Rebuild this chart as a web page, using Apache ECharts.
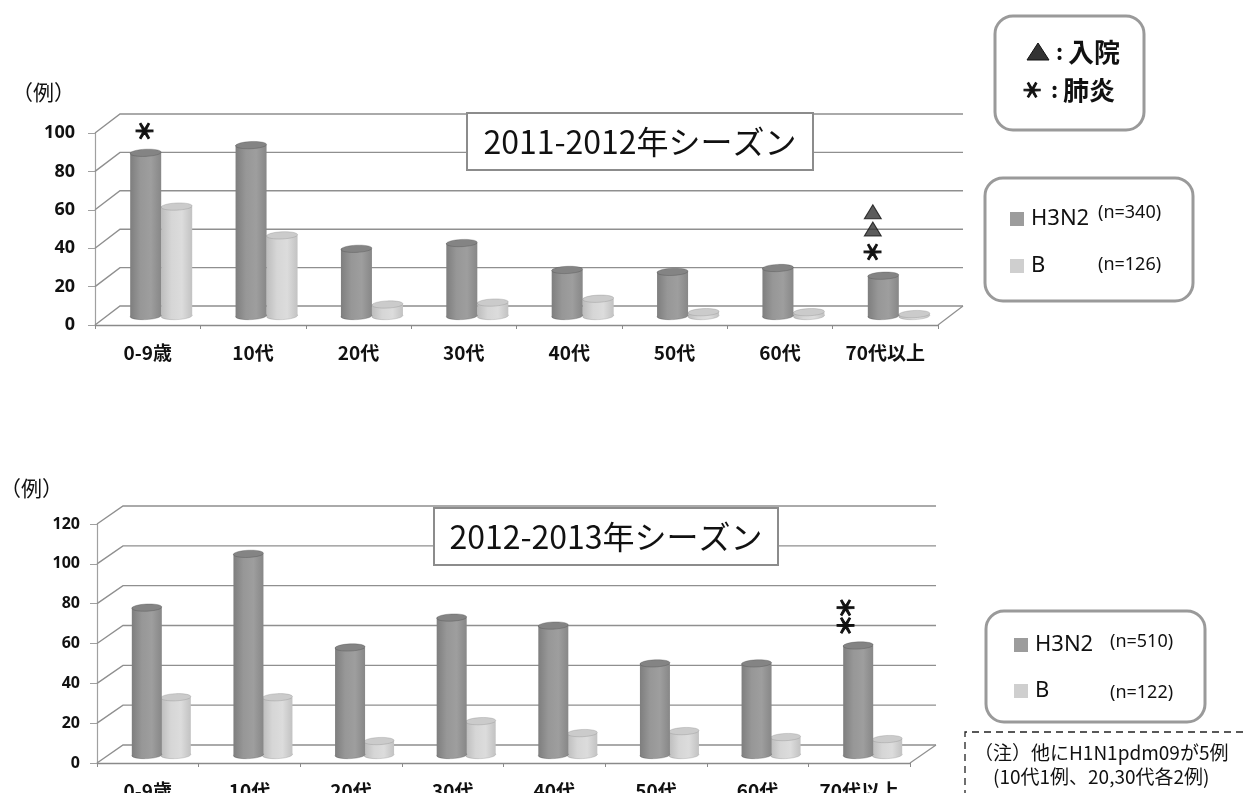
<!DOCTYPE html>
<html lang="ja">
<head>
<meta charset="utf-8">
<title>インフルエンザ 年代別症例数</title>
<script src="https://cdn.jsdelivr.net/npm/echarts@6/dist/echarts.min.js"></script>
<style>
html,body{margin:0;padding:0;background:#fff;overflow:hidden}
#main{width:1243px;height:793px}
</style>
</head>
<body>
<div id="main"></div>
<script>
// Age groups on both panels
const categories = ['0-9歳', '10代', '20代', '30代', '40代', '50代', '60代', '70代以上'];

// 2011-2012 season
const h3n2Season1 = [85, 89, 35, 38, 24, 23, 25, 21];
const bSeason1 = [57, 42, 6, 7, 9, 2, 2, 1];
const pneumoniaSeason1 = [[0, 101], [7, 38]];
const hospitalSeason1 = [[7, 59], [7, 50]];
const ticksSeason1 = [0, 20, 40, 60, 80, 100];

// 2012-2013 season
const h3n2Season2 = [74, 101, 54, 69, 65, 46, 46, 55];
const bSeason2 = [29, 29, 7, 17, 11, 12, 9, 8];
const pneumoniaSeason2 = [[7, 78], [7, 69]];
const ticksSeason2 = [0, 20, 40, 60, 80, 100, 120];

const CJK = '"Noto Sans CJK JP","Noto Sans",sans-serif';
const LATIN = '"Noto Sans","Noto Sans CJK JP",sans-serif';
const WALL = '#8f8f8f';

const DARK = {stops: ['#7e7e7e', '#979797', '#9e9e9e', '#878787'], cap: '#848484', legend: '#9c9c9c'};
const LIGHT = {stops: ['#bdbdbd', '#d6d6d6', '#dcdcdc', '#c2c2c2'], cap: '#cbcbcb', legend: '#cfcfcf'};

// Panel layout: front plane of the box and how far the back wall is shifted
const panels = [
  {left: 95, top: 133, width: 843, height: 192, depthX: 25, depthY: -19, floorY: -9, rx: 15.5, ry: 3.6, darkX: -2, lightX: 29, max: 100},
  {left: 97, top: 524, width: 813, height: 239, depthX: 26, depthY: -18, floorY: -8, rx: 15, ry: 3.6, darkX: -1, lightX: 28, max: 120}
];

// Receding gridlines: slanted stub from the axis, then the line along the back wall
function wallSeries(gridIndex, ticks) {
  const p = panels[gridIndex];
  return {
    type: 'custom', name: 'wall' + gridIndex, xAxisIndex: gridIndex, yAxisIndex: gridIndex, z: 1, silent: true,
    data: ticks.map(v => [0, v]),
    renderItem(params, api) {
      const y = api.coord([0, api.value(1)])[1];
      const x0 = p.left, x1 = p.left + p.width;
      const children = [{
        type: 'polyline',
        shape: {points: [[x0, y], [x0 + p.depthX, y + p.depthY], [x1 + p.depthX, y + p.depthY]]},
        style: {stroke: WALL, lineWidth: 1.4, fill: null}
      }];
      if (api.value(1) === 0) {
        children.push({
          type: 'line',
          shape: {x1: x1, y1: y, x2: x1 + p.depthX, y2: y + p.depthY},
          style: {stroke: WALL, lineWidth: 1.2}
        });
      }
      return {type: 'group', children};
    }
  };
}

// One cylinder per category, standing on the middle of the floor
function cylinderSeries(gridIndex, name, values, look, shiftX, z) {
  const p = panels[gridIndex];
  const gradient = {
    type: 'linear', x: 0, y: 0, x2: 1, y2: 0,
    colorStops: look.stops.map((c, i) => ({offset: i / (look.stops.length - 1), color: c}))
  };
  const tilt = 0.045;
  return {
    type: 'custom', name, xAxisIndex: gridIndex, yAxisIndex: gridIndex, z, silent: true,
    itemStyle: {color: look.legend},
    data: values.map((v, i) => [i, v]),
    renderItem(params, api) {
      const top = api.coord([api.value(0), api.value(1)]);
      const base = api.coord([api.value(0), 0]);
      const cx = top[0] + shiftX;
      const topY = top[1] + p.floorY;
      const baseY = base[1] + p.floorY;
      const edge = look === DARK ? 'rgba(70,70,70,.5)' : 'rgba(130,130,130,.5)';
      const disc = (cy, fill) => ({
        type: 'ellipse',
        shape: {cx, cy, rx: p.rx, ry: p.ry},
        rotation: tilt, originX: cx, originY: cy,
        style: {fill, stroke: edge, lineWidth: 0.6}
      });
      return {type: 'group', children: [
        disc(baseY, gradient),
        {type: 'rect', shape: {x: cx - p.rx, y: topY, width: p.rx * 2, height: Math.max(baseY - topY, 0)}, style: {fill: gradient}},
        disc(topY, look.cap)
      ]};
    }
  };
}

// Six-armed mark with one arm pointing straight up, as text
function starText(x, y, size) {
  return {
    type: 'text', x, y, rotation: Math.PI / 2,
    style: {text: '＊', font: 'bold ' + size + 'px ' + CJK, fill: '#111', stroke: '#111', lineWidth: 1, align: 'center', verticalAlign: 'middle'}
  };
}

// Case annotations sit just left of the bar group
function asteriskSeries(gridIndex, points, shiftFor) {
  return {
    type: 'custom', name: 'pneumonia' + gridIndex, xAxisIndex: gridIndex, yAxisIndex: gridIndex, z: 6, silent: true,
    data: points,
    renderItem(params, api) {
      const pos = api.coord([api.value(0), api.value(1)]);
      return starText(pos[0] + shiftFor(api.value(0)), pos[1], 22);
    }
  };
}

function triangleSeries(gridIndex, points, shift) {
  return {
    type: 'scatter', name: 'hospital' + gridIndex, xAxisIndex: gridIndex, yAxisIndex: gridIndex, z: 6, silent: true,
    symbol: 'triangle', symbolSize: [17, 14], symbolOffset: [shift, 0],
    itemStyle: {color: '#333', borderColor: '#111', borderWidth: 1},
    clip: false, data: points
  };
}

function xAxisFor(gridIndex) {
  return {
    type: 'category', gridIndex, data: categories,
    axisLine: {lineStyle: {color: '#8a8a8a', width: 1.4}},
    axisTick: {show: true, length: 4, lineStyle: {color: '#8a8a8a'}, alignWithLabel: false},
    axisLabel: {interval: 0, color: '#111', fontSize: 19, fontWeight: 'bold', fontFamily: CJK, margin: 18},
    splitLine: {show: false}
  };
}

function yAxisFor(gridIndex, margin, size) {
  return {
    type: 'value', gridIndex, min: 0, max: panels[gridIndex].max, interval: 20,
    axisLine: {show: true, lineStyle: {color: '#a0a0a0', width: 1.2}},
    axisTick: {show: true, length: 7, lineStyle: {color: '#a0a0a0'}},
    axisLabel: {color: '#111', fontSize: size, fontWeight: 'bold', fontFamily: LATIN, margin},
    splitLine: {show: false}
  };
}

function titleBox(x, y, w, h, label, size) {
  return [
    {type: 'rect', z: 20, shape: {x, y, width: w, height: h}, style: {fill: '#fff', stroke: '#8c8c8c', lineWidth: 2}},
    {type: 'text', z: 21, x: x + w / 2, y: y + h / 2, style: {text: label, font: size + 'px ' + CJK, fill: '#111', align: 'center', verticalAlign: 'middle'}}
  ];
}

function roundBox(x, y, w, h) {
  return {type: 'rect', z: 20, shape: {x, y, width: w, height: h, r: 18}, style: {fill: 'rgba(255,255,255,0)', stroke: '#9a9a9a', lineWidth: 3}};
}

function freeText(x, y, label, font, align) {
  return {type: 'text', z: 21, x, y, style: {text: label, font, fill: '#111', align: align || 'left', verticalAlign: 'middle'}};
}

function legendAt(left, top, gap, size) {
  return {
    left, top, orient: 'vertical', itemGap: gap, itemWidth: 14, itemHeight: 14, icon: 'rect', selectedMode: false,
    data: ['H3N2', 'B'], z: 22,
    textStyle: {color: '#111', fontSize: size, fontFamily: LATIN, padding: [0, 0, 0, 2]}
  };
}

const chart = echarts.init(document.getElementById('main'));
chart.setOption({
  animation: false,
  backgroundColor: '#fff',
  tooltip: {show: false},
  // The lower labels run off the page edge, so the grids keep their exact boxes
  grid: panels.map(p => ({left: p.left, top: p.top, width: p.width, height: p.height, containLabel: false, outerBoundsMode: 'none'})),
  xAxis: [xAxisFor(0), xAxisFor(1)],
  yAxis: [yAxisFor(0, 20, 18), yAxisFor(1, 17, 16)],
  legend: [legendAt(1005, 203, 25, 22), legendAt(1009, 629, 24, 22)],
  series: [
    wallSeries(0, ticksSeason1),
    wallSeries(1, ticksSeason2),
    cylinderSeries(0, 'B', bSeason1, LIGHT, panels[0].lightX, 3),
    cylinderSeries(0, 'H3N2', h3n2Season1, DARK, panels[0].darkX, 4),
    cylinderSeries(1, 'B', bSeason2, LIGHT, panels[1].lightX, 3),
    cylinderSeries(1, 'H3N2', h3n2Season2, DARK, panels[1].darkX, 4),
    asteriskSeries(0, pneumoniaSeason1, i => (i === 0 ? -3 : -12.5)),
    triangleSeries(0, hospitalSeason1, -12.5),
    asteriskSeries(1, pneumoniaSeason2, () => -14)
  ],
  graphic: {elements: [
    ...titleBox(467, 113, 346, 57, '2011-2012年シーズン', 32),
    ...titleBox(434, 508, 344, 57, '2012-2013年シーズン', 32),

    freeText(12, 92, '（例）', '21px ' + CJK),
    freeText(0, 488, '（例）', '21px ' + CJK),

    // Symbol key
    roundBox(995, 16, 149, 114),
    {type: 'polygon', z: 21, shape: {points: [[1027, 60], [1038, 43], [1049, 60]]}, style: {fill: '#333', stroke: '#111', lineWidth: 1}},
    freeText(1056, 52, ':', 'bold 22px ' + CJK),
    freeText(1068, 52, '入院', 'bold 26px ' + CJK),
    Object.assign(starText(1032, 90, 21), {z: 21}),
    freeText(1051, 90, ':', 'bold 22px ' + CJK),
    freeText(1063, 90, '肺炎', 'bold 26px ' + CJK),

    // Upper legend frame and counts
    roundBox(985, 178, 208, 123),
    freeText(1098, 213, '(n=340)', '18px ' + LATIN),
    freeText(1098, 265, '(n=126)', '18px ' + LATIN),

    // Lower legend frame and counts
    roundBox(986, 611, 219, 111),
    freeText(1110, 642, '(n=510)', '18px ' + LATIN),
    freeText(1110, 693, '(n=122)', '18px ' + LATIN),

    // Footnote
    {type: 'polyline', z: 20, shape: {points: [[1243, 732], [965, 732], [965, 800]]}, style: {stroke: '#222', lineWidth: 1.3, lineDash: [7, 5], fill: null}},
    freeText(974, 753, '（注）他にH1N1pdm09が5例', '19px ' + CJK),
    freeText(993, 777, '(10代1例、20,30代各2例)', '19px ' + CJK)
  ]}
});
</script>
</body>
</html>
